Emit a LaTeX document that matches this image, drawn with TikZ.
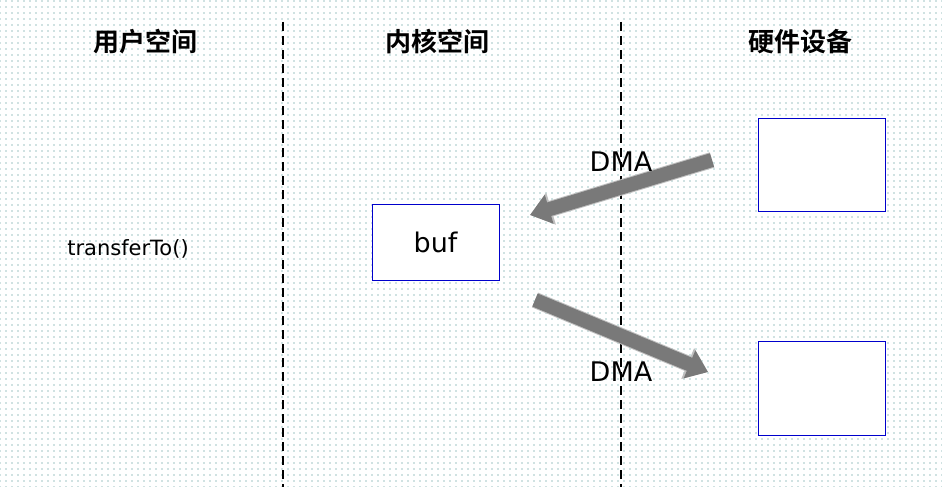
\documentclass[tikz,border=0pt]{standalone}
\usepackage{fontspec}
\setmainfont{DejaVu Sans}
\newfontfamily\cjk{Noto Sans CJK SC}[BoldFont={Noto Sans CJK SC Bold}]
\usetikzlibrary{arrows.meta,patterns.meta}
\begin{document}
\begin{tikzpicture}[x=1pt,y=-1pt,
  title/.style={font=\cjk\bfseries\fontsize{26}{30}\selectfont},
  box/.style={draw=blue!80!black,line width=0.5pt,fill=white},
  divider/.style={draw=black,line width=2.6pt,dash pattern=on 9pt off 5pt},
  dmaarrow/.style={draw=gray!50,line width=16pt,-{Triangle[length=22pt,width=32pt]},
     postaction={draw=gray!95!black,line width=14pt,-{Triangle[length=20pt,width=29pt]}}},
  lbl/.style={font=\fontsize{27}{32}\selectfont}]
\useasboundingbox (0,0) rectangle (942,487);
\fill[pattern={Dots[distance=6pt,radius=0.6pt]},pattern color=teal!60!gray] (0,0) rectangle (942,487);
\coordinate (d1t) at (283,22); \coordinate (d1b) at (283,487);
\coordinate (d2t) at (621,22); \coordinate (d2b) at (621,487);
\draw[divider] (d1t) -- (d1b);
\draw[divider] (d2t) -- (d2b);
\node[title] (t1) at (145,42) {用户空间};
\node[title] (t2) at (437,42) {内核空间};
\node[title] (t3) at (800,42) {硬件设备};
\node[font=\fontsize{21}{25}\selectfont] (call) at (128,249) {transferTo()};
\node[box,minimum width=127pt,minimum height=76pt,lbl] (buf) at (435.5,242) {buf};
\node[box,minimum width=127pt,minimum height=93pt] (hw1) at (821.5,164.5) {};
\node[box,minimum width=127pt,minimum height=94pt] (hw2) at (821.5,388) {};
\coordinate (a1s) at (712,160); \coordinate (a1e) at (530,215);
\coordinate (a2s) at (535,300); \coordinate (a2e) at (708,372);
\draw[dmaarrow] (a1s) -- (a1e);
\draw[dmaarrow] (a2s) -- (a2e);
\node[lbl] (dma1) at (621,162) {DMA};
\node[lbl] (dma2) at (621,372) {DMA};
\end{tikzpicture}
\end{document}
